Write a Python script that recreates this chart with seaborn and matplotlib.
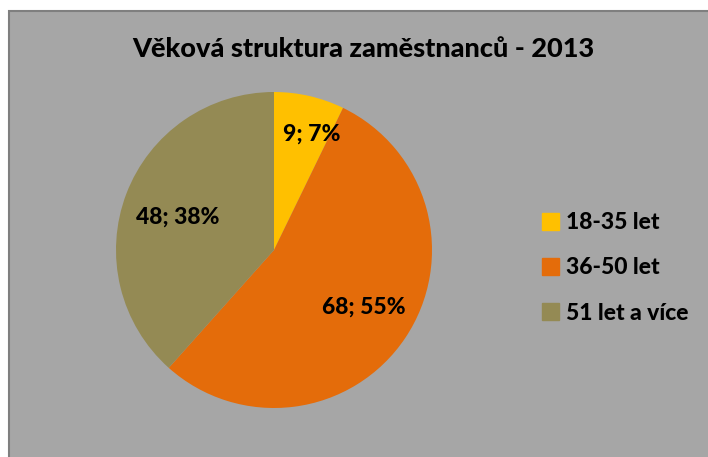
import matplotlib
matplotlib.use("Agg")
import matplotlib.pyplot as plt
import matplotlib.patches as mpatches
import numpy as np
import seaborn as sns

# data
categories = ["18-35 let", "36-50 let", "51 let a více"]
counts = [9, 68, 48]
label_texts = ["9; 7%", "68; 55%", "48; 38%"]
colors = ["#FFC000", "#E46C0A", "#948A54"]
title = "Věková struktura zaměstnanců - 2013"

sns.set_theme(style="white")
plt.rcParams["font.family"] = ["Lato", "DejaVu Sans"]
plt.rcParams["font.weight"] = "black"
plt.rcParams["text.color"] = "black"

fig = plt.figure(figsize=(7.08, 4.57), dpi=100)
fig.patch.set_facecolor("white")

# grey chart area with border (runs off the right/bottom edge)
W, H = 708, 457
bg = mpatches.Rectangle((9 / W, -0.05), 1.1, 1 - 11 / H + 0.05,
                        transform=fig.transFigure, facecolor="#A6A6A6",
                        edgecolor="#7F7F7F", linewidth=1.5, zorder=-5)
fig.patches.append(bg)

fig.text(363 / W, 1 - 49 / H, title, ha="center", va="center",
         fontsize=19.5, fontweight="black", color="black")

# pie axes
cx, cy, r = 274, 250, 158
ax = fig.add_axes([(cx - r) / W, (H - cy - r) / H, 2 * r / W, 2 * r / H])
ax.set_zorder(2)
ax.set_facecolor("none")
wedges, _ = ax.pie(counts, colors=colors, startangle=90, counterclock=False,
                   wedgeprops=dict(linewidth=0))
ax.set_xlim(-1, 1)
ax.set_ylim(-1, 1)
ax.set_aspect("equal")

# data labels inside slices (distance from centre, small nudge in points)
dist = [0.78, 0.65, 0.65]
nudge = [(7, -3), (3, 0), (0, -3)]
for w, txt, d, off in zip(wedges, label_texts, dist, nudge):
    ang = np.deg2rad((w.theta1 + w.theta2) / 2)
    ax.annotate(txt, (d * np.cos(ang), d * np.sin(ang)), xytext=off,
                textcoords="offset points", ha="center", va="center",
                fontsize=16.5, fontweight="black", color="black")

handles = [mpatches.Patch(color=c, label=l) for c, l in zip(colors, categories)]
leg = fig.legend(handles=handles, loc="center left",
                 bbox_to_anchor=(521 / W, 1 - 268 / H), frameon=False,
                 prop=dict(size=16.5, weight="black"), handlelength=0.75,
                 handleheight=0.75, handletextpad=0.3, labelspacing=1.05)
for t in leg.get_texts():
    t.set_color("black")

fig.savefig("out.png", dpi=100, facecolor=fig.get_facecolor())
